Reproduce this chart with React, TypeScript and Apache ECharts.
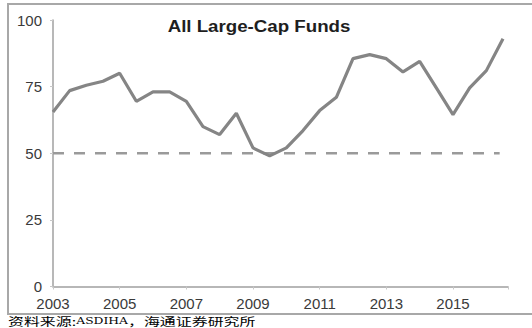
import React, { useEffect, useRef } from "react";
import * as echarts from "echarts";

// Half-year observation points, in years after 2003
const periods = [
  0, 0.5, 1, 1.5, 2, 2.5, 3, 3.5, 4, 4.5, 5, 5.5, 6, 6.5,
  7, 7.5, 8, 8.5, 9, 9.5, 10, 10.5, 11, 11.5, 12, 12.5, 13, 13.5,
];
const fundShare = [
  65.5, 73.5, 75.5, 77, 80, 69.5, 73, 73, 69.5, 60, 57, 65, 52, 49,
  52, 58.5, 66, 71, 85.5, 87, 85.5, 80.5, 84.5, 74.5, 64.5, 74.5, 81, 93,
];
const baseYear = 2003;
const thresholdLevel = 50;
const yTicks = [0, 25, 50, 75, 100];
const titleText = "All Large-Cap Funds";
const sourcePrefix = "资料来源:";
const sourceLatin = "ASDIHA";
const sourceSuffix = "，海通证券研究所";

export default function App() {
  const ref = useRef<HTMLDivElement>(null);

  useEffect(() => {
    if (!ref.current) return;
    const chart = echarts.init(ref.current, undefined, { renderer: "svg" });
    const lineData = periods.map((p, i) => [p, fundShare[i]]);
    const thresholdData = [
      [periods[0], thresholdLevel],
      [periods[periods.length - 1] - 0.1, thresholdLevel],
    ];
    chart.setOption({
      animation: false,
      backgroundColor: "#ffffff",
      grid: { left: 53, right: 24, top: 20, bottom: 41.5, containLabel: false },
      xAxis: {
        type: "value",
        min: 0,
        max: 13.65,
        interval: 2,
        axisLine: { show: true, lineStyle: { color: "#a0a0a0", width: 1.5 } },
        axisTick: { show: true, length: 3, lineStyle: { color: "#c8c8c8" } },
        splitLine: { show: false },
        axisLabel: {
          margin: 9,
          fontSize: 15,
          color: "#3a3a3a",
          fontFamily: "Liberation Sans, Arial, sans-serif",
          formatter: (v: number) =>
            Math.abs(v % 2) < 1e-6 ? String(baseYear + v) : "",
        },
      },
      yAxis: {
        type: "value",
        min: yTicks[0],
        max: yTicks[yTicks.length - 1],
        interval: yTicks[1] - yTicks[0],
        axisLine: { show: true, lineStyle: { color: "#a0a0a0", width: 1.5 } },
        axisTick: { show: true, length: 3, lineStyle: { color: "#c8c8c8" } },
        splitLine: { show: false },
        axisLabel: {
          margin: 11,
          fontSize: 15,
          color: "#3a3a3a",
          fontFamily: "Liberation Sans, Arial, sans-serif",
        },
      },
      series: [
        {
          type: "line",
          data: thresholdData,
          symbol: "none",
          lineStyle: { color: "#9a9a9a", width: 2.5, type: [11, 10] },
          z: 1,
        },
        {
          type: "line",
          data: lineData,
          symbol: "none",
          lineStyle: { color: "#858585", width: 3.2 },
          z: 2,
        },
      ],
      graphic: [
        {
          type: "rect",
          shape: { x: 8, y: 4, width: 540, height: 310 },
          style: { fill: "none", stroke: "#a8a8a8", lineWidth: 2 },
          silent: true,
        },
        {
          type: "text",
          x: 259,
          y: 26,
          scaleX: 1.1,
          style: {
            text: titleText,
            fill: "#1e1e1e",
            font: "bold 17px 'Liberation Sans', Arial, sans-serif",
            textAlign: "center",
            textVerticalAlign: "middle",
          },
        },
        {
          type: "text",
          x: 8,
          y: 321,
          scaleX: 1.45,
          style: {
            text: `{a|${sourcePrefix}}{b|${sourceLatin}}{a|${sourceSuffix}}`,
            rich: {
              a: {
                fontSize: 11,
                fontFamily: "'Noto Sans CJK SC', sans-serif",
                fill: "#000",
                lineHeight: 11,
              },
              b: {
                fontSize: 8.5,
                fontFamily: "'DejaVu Serif', serif",
                fill: "#000",
                lineHeight: 11,
              },
            },
            verticalAlign: "middle",
          },
        },
      ],
    });
    return () => chart.dispose();
  }, []);

  return (
    <div
      ref={ref}
      style={{ position: "absolute", left: 0, top: 0, width: 532, height: 328 }}
    />
  );
}
